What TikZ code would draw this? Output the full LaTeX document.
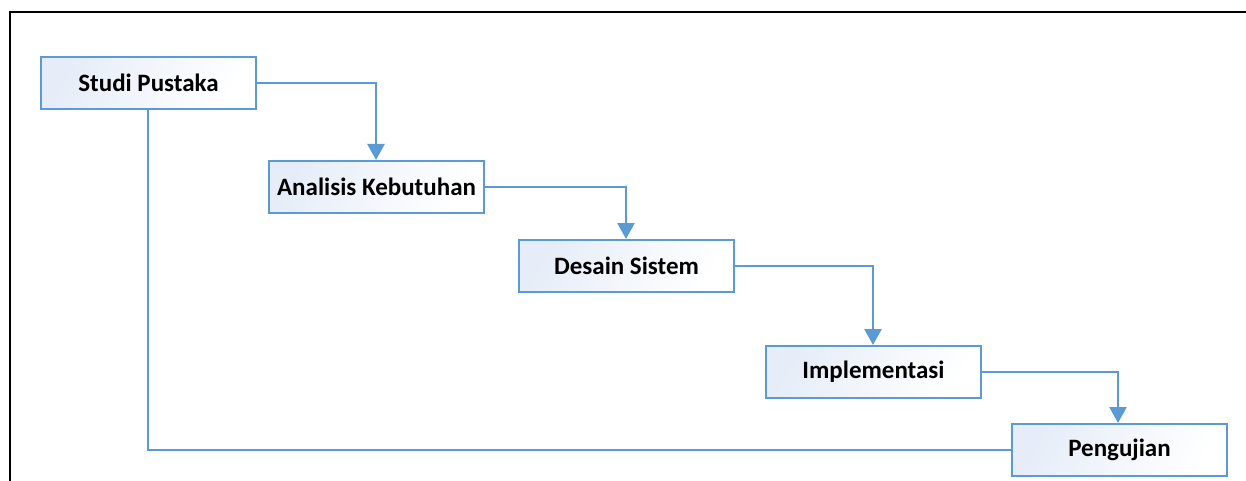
\documentclass[tikz,border=0pt]{standalone}
\usepackage{fontspec}
\setmainfont{Carlito}
\usetikzlibrary{arrows.meta}
\definecolor{flowblue}{HTML}{5B9BD5}
\definecolor{boxtint}{HTML}{E6EDF8}
\tikzset{
  stage/.style={draw=flowblue, line width=2pt, minimum width=215pt, minimum height=52pt,
    inner sep=0pt, left color=boxtint, right color=white, shading angle=60,
    font=\fontsize{25}{30}\selectfont\bfseries, text=black, anchor=north west},
  flow/.style={draw=flowblue, line width=2.6pt, -{Triangle[width=17pt,length=16pt]}},
  link/.style={draw=flowblue, line width=2.6pt}
}
\begin{document}
\begin{tikzpicture}[x=1pt,y=-1pt]
\useasboundingbox (0,0) rectangle (1246,481);
% page frame: top and left rules only
\draw[line width=2.5pt] (10,481) -- (10,12) -- (1246,12);
% stages
\node[stage] (s1) at (40,56) {Studi Pustaka};
\node[stage] (s2) at (268,160) {Analisis Kebutuhan};
\node[stage] (s3) at (518,239) {Desain Sistem};
\node[stage] (s4) at (765,345) {Implementasi};
\node[stage] (s5) at (1011,423) {Pengujian};
% drop points on the top edge of each following stage
\coordinate (d2) at ([xshift=108pt]s2.north west);
\coordinate (d3) at ([xshift=108pt]s3.north west);
\coordinate (d4) at ([xshift=108pt]s4.north west);
\coordinate (d5) at ([xshift=107pt]s5.north west);
% connectors
\draw[flow] (s1.east) -| (d2);
\draw[flow] (s2.east) -| (d3);
\draw[flow] (s3.east) -| (d4);
\draw[flow] (s4.east) -| (d5);
\draw[link] ([xshift=108pt]s1.south west) |- (s5.west);
\end{tikzpicture}
\end{document}
